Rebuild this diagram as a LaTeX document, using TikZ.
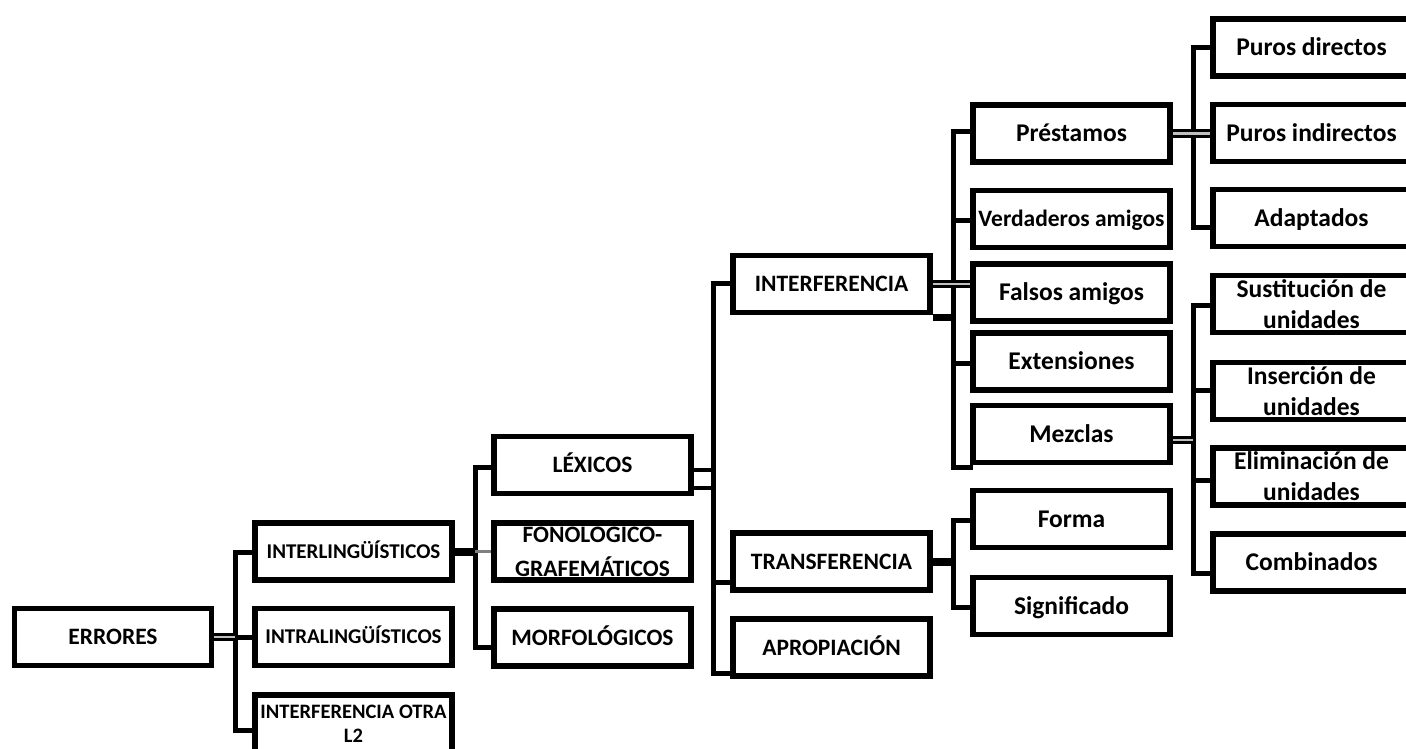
\documentclass[tikz,border=0pt]{standalone}
\usepackage{fontspec}
\setmainfont{Carlito}
\begin{document}
\begin{tikzpicture}[x=1pt,y=-1pt,
  box/.style={draw, line width=5.5pt, minimum width=197pt, minimum height=57pt, inner sep=0pt, align=center, font=\bfseries\fontsize{25.5}{31}\selectfont},
  one/.style={text height=16.5pt, text depth=0pt},
  capbig/.style={font=\bfseries\fontsize{23.5}{30}\selectfont, text height=15pt, text depth=0pt},
  capsm/.style={font=\bfseries\fontsize{21}{25}\selectfont, text height=13.5pt, text depth=0pt},
  ln/.style={line width=5pt, line cap=rect, line join=miter},
  thk/.style={line width=8pt},
  gl/.style={line width=3.5pt, draw=gray},
  dbl/.style={line width=3pt, double=gray!50, double distance=2.5pt}
]
\useasboundingbox (0,0) rectangle (1406,749);
\clip (0,0) rectangle (1406,749);
% level 0
\node[box,capbig] (errores) at (113,637) {ERRORES};
% level 1
\node[box,capsm] (interl) at (353.5,551.5) {INTERLINGÜÍSTICOS};
\node[box,capsm] (intral) at (353.5,637) {INTRALINGÜÍSTICOS};
\node[box,font=\bfseries\fontsize{20.5}{24}\selectfont] (otra) at (353.5,723.5) {INTERFERENCIA OTRA\\L2};
% level 2
\node[box,capbig] (lexicos) at (592.5,465) {LÉXICOS};
\node[box,font=\bfseries\fontsize{23.5}{34}\selectfont] (fono) at (592.5,551.5) {FONOLOGICO-\\GRAFEMÁTICOS};
\node[box,capbig] (morfo) at (592.5,637.5) {MORFOLÓGICOS};
% level 3
\node[box,capbig] (interf) at (831.5,284) {INTERFERENCIA};
\node[box,capbig] (transf) at (831.5,561.5) {TRANSFERENCIA};
\node[box,capbig] (apro) at (831.5,647.5) {APROPIACIÓN};
% level 4
\node[box,one] (prest) at (1071.5,133.5) {Préstamos};
\node[box,font=\bfseries\fontsize{23.5}{30}\selectfont, text height=15pt, text depth=0pt] (verd) at (1071.5,219) {Verdaderos amigos};
\node[box,one] (falsos) at (1071.5,292.5) {Falsos amigos};
\node[box,one] (ext) at (1071.5,361.5) {Extensiones};
\node[box,one] (mezclas) at (1071.5,434) {Mezclas};
\node[box,one] (forma) at (1071.5,519) {Forma};
\node[box,one] (signif) at (1071.5,606) {Significado};
% level 5
\node[box,one] (pdir) at (1311.5,47.5) {Puros directos};
\node[box,one] (pind) at (1311.5,133) {Puros indirectos};
\node[box,one] (adapt) at (1311.5,218) {Adaptados};
\node[box] (sust) at (1311.5,304) {Sustitución de\\unidades};
\node[box] (ins) at (1311.5,391) {Inserción de\\unidades};
\node[box] (elim) at (1311.5,476.5) {Eliminación de\\unidades};
\node[box,one] (comb) at (1311.5,562.5) {Combinados};

% bus 1
\coordinate (b1t) at (235,552);
\coordinate (b1b) at (235,730);
\draw[ln] (b1t -| interl.west) -- (b1t) -- (b1b) -- (b1b -| otra.west);
\draw[ln] (b1t |- intral.west) -- (intral.west);
\draw[dbl] (errores.east) -- (errores.east -| b1t);
% bus 2
\coordinate (b2t) at (475,467);
\coordinate (b2b) at (475,647);
\draw[ln] (b2t -| lexicos.west) -- (b2t) -- (b2b) -- (b2b -| morfo.west);
\draw[gl] (b2t |- fono.west) -- (fono.west);
\draw[thk] (interl.east) -- (interl.east -| b2t);
% bus 3
\coordinate (b3t) at (713,283);
\coordinate (b3b) at (713,673);
\coordinate (b3m) at (713,582);
\coordinate (b3x1) at (713,470);
\coordinate (b3x2) at (713,488);
\draw[ln] (b3t -| interf.west) -- (b3t) -- (b3b) -- (b3b -| apro.west);
\draw[ln] (b3m) -- (b3m -| transf.west);
\draw[line width=4pt] (b3x1 -| lexicos.east) -- (b3x1);
\draw[line width=4pt] (b3x2 -| lexicos.east) -- (b3x2);
% bus 4
\coordinate (b4t) at (953,132);
\coordinate (b4b) at (953,467);
\coordinate (b4v) at (953,220);
\coordinate (b4e) at (953,363);
\coordinate (b4x) at (953,317);
\draw[ln] (b4t -| prest.west) -- (b4t) -- (b4b) -- (b4b -| mezclas.west);
\draw[ln] (b4v) -- (b4v -| verd.west);
\draw[ln] (b4e) -- (b4e -| ext.west);
\draw[dbl] (interf.east) -- (interf.east -| falsos.west);
\draw[line width=7pt] (b4x -| interf.east) -- (b4x);
% bus 5
\coordinate (b5t) at (1193,48);
\coordinate (b5b) at (1193,227);
\draw[ln] (b5t -| pdir.west) -- (b5t) -- (b5b) -- (b5b -| adapt.west);
\draw[dbl] (prest.east) -- (prest.east -| pind.west);
% bus 6
\coordinate (b6t) at (1193,305);
\coordinate (b6b) at (1193,573);
\coordinate (b6i) at (1193,390);
\coordinate (b6e) at (1193,480);
\coordinate (b6m) at (1193,440);
\draw[ln] (b6t -| sust.west) -- (b6t) -- (b6b) -- (b6b -| comb.west);
\draw[ln] (b6i) -- (b6i -| ins.west);
\draw[ln] (b6e) -- (b6e -| elim.west);
\draw[dbl] (b6m -| mezclas.east) -- (b6m);
% bus 7
\coordinate (b7t) at (953,520);
\coordinate (b7b) at (953,607);
\draw[ln] (b7t -| forma.west) -- (b7t) -- (b7b) -- (b7b -| signif.west);
\draw[thk] (transf.east) -- (transf.east -| b7t);
\end{tikzpicture}
\end{document}
